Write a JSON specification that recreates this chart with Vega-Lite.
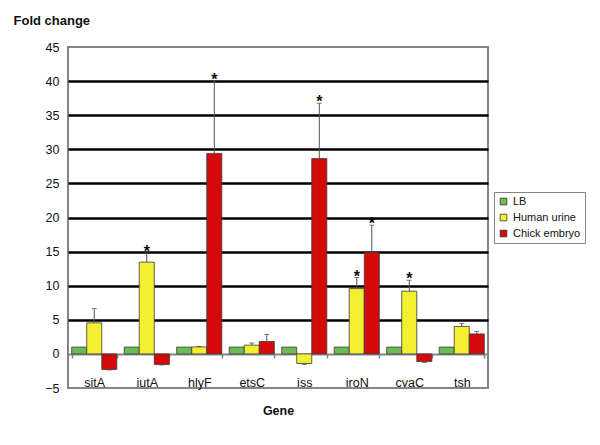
{
  "$schema": "https://vega.github.io/schema/vega-lite/v6.json",
  "width": 420,
  "height": 341,
  "autosize": {"type": "none"},
  "padding": {"left": 68, "top": 47, "right": 112, "bottom": 57},
  "background": "white",
  "config": {
    "font": "Liberation Sans",
    "view": {"stroke": "#858585", "strokeWidth": 2},
    "axis": {"labelFont": "Liberation Sans", "titleFont": "Liberation Sans", "labelColor": "#111", "titleColor": "#111"}
  },
  "data": {
    "values": [
      {"gene": "sitA", "cond": "LB", "value": 1},
      {"gene": "sitA", "cond": "Human urine", "value": 4.55, "err": 6.65},
      {"gene": "sitA", "cond": "Chick embryo", "value": -2.29, "err": -2.36},
      {"gene": "iutA", "cond": "LB", "value": 1},
      {"gene": "iutA", "cond": "Human urine", "value": 13.45, "err": 14.8, "star": "*"},
      {"gene": "iutA", "cond": "Chick embryo", "value": -1.56, "err": -1.62},
      {"gene": "hlyF", "cond": "LB", "value": 1},
      {"gene": "hlyF", "cond": "Human urine", "value": 1.02, "err": 1.1},
      {"gene": "hlyF", "cond": "Chick embryo", "value": 29.4, "err": 40.0, "star": "*"},
      {"gene": "etsC", "cond": "LB", "value": 1},
      {"gene": "etsC", "cond": "Human urine", "value": 1.28, "err": 1.6},
      {"gene": "etsC", "cond": "Chick embryo", "value": 1.82, "err": 2.85},
      {"gene": "iss", "cond": "LB", "value": 1},
      {"gene": "iss", "cond": "Human urine", "value": -1.4, "err": -1.55},
      {"gene": "iss", "cond": "Chick embryo", "value": 28.65, "err": 36.76, "star": "*"},
      {"gene": "iroN", "cond": "LB", "value": 1},
      {"gene": "iroN", "cond": "Human urine", "value": 9.58, "err": 11.2, "star": "*"},
      {"gene": "iroN", "cond": "Chick embryo", "value": 14.87, "err": 18.87, "star": "*"},
      {"gene": "cvaC", "cond": "LB", "value": 1},
      {"gene": "cvaC", "cond": "Human urine", "value": 9.19, "err": 10.8, "star": "*"},
      {"gene": "cvaC", "cond": "Chick embryo", "value": -1.12, "err": -1.25},
      {"gene": "tsh", "cond": "LB", "value": 1},
      {"gene": "tsh", "cond": "Human urine", "value": 4.02, "err": 4.46},
      {"gene": "tsh", "cond": "Chick embryo", "value": 2.93, "err": 3.28}
    ]
  },
  "encoding": {
    "x": {
      "field": "gene", "type": "nominal", "sort": null,
      "scale": {"paddingInner": 0.14, "paddingOuter": 0.07},
      "axis": {
        "orient": "bottom", "offset": -34, "title": "Gene",
        "titleFontSize": 12.5, "titleFontWeight": "bold", "titleY": 56, "titleBaseline": "middle",
        "labelAngle": 0, "labelFontSize": 12.5, "labelPadding": 18,
        "tickBand": "extent", "tickSize": 4, "tickColor": "#858585", "tickWidth": 1.5,
        "domainColor": "#858585", "domainWidth": 2
      }
    },
    "xOffset": {"field": "cond", "type": "nominal", "sort": ["LB", "Human urine", "Chick embryo"], "scale": {"padding": 0}},
    "y": {
      "field": "value", "type": "quantitative",
      "scale": {"domain": [-5, 45], "nice": false, "zero": false},
      "axis": {
        "values": [-5, 0, 5, 10, 15, 20, 25, 30, 35, 40, 45],
        "title": "Fold change", "titleAngle": 0, "titleX": -55, "titleY": -27,
        "titleAlign": "left", "titleBaseline": "middle", "titleFontSize": 13, "titleFontWeight": "bold",
        "labelFontSize": 12.5, "labelPadding": 9, "ticks": false, "domain": false,
        "grid": true, "gridColor": "black", "gridWidth": 2.5,
        "gridOpacity": {"condition": {"test": "datum.value > 0 && datum.value < 45", "value": 1}, "value": 0}
      }
    }
  },
  "layer": [
    {
      "mark": {"type": "bar", "stroke": "#3a3a3a", "strokeWidth": 0.8},
      "encoding": {
        "color": {
          "field": "cond", "type": "nominal",
          "scale": {"domain": ["LB", "Human urine", "Chick embryo"], "range": ["#6cbb55", "#f2f030", "#d40a0a"]},
          "legend": {
            "title": null, "orient": "none", "legendX": 426, "legendY": 145,
            "symbolType": "square", "symbolSize": 45, "symbolStrokeColor": "#333", "symbolStrokeWidth": 0.8,
            "labelFont": "Liberation Sans", "labelFontSize": 11, "labelColor": "#111", "labelOffset": 4,
            "rowPadding": 4, "padding": 4, "strokeColor": "#858585", "fillColor": "white"
          }
        }
      }
    },
    {
      "transform": [{"filter": "isValid(datum.err)"}],
      "mark": {"type": "rule", "color": "#555", "strokeWidth": 1},
      "encoding": {"y2": {"field": "err"}}
    },
    {
      "transform": [{"filter": "isValid(datum.err)"}],
      "mark": {"type": "tick", "color": "#444", "thickness": 1, "size": 5},
      "encoding": {"y": {"field": "err", "type": "quantitative"}}
    },
    {
      "transform": [{"filter": "isValid(datum.star)"}],
      "mark": {"type": "text", "fontSize": 16, "fontWeight": "bold", "color": "#111", "baseline": "alphabetic", "dy": 4},
      "encoding": {"y": {"field": "err", "type": "quantitative"}, "text": {"field": "star"}}
    }
  ]
}
